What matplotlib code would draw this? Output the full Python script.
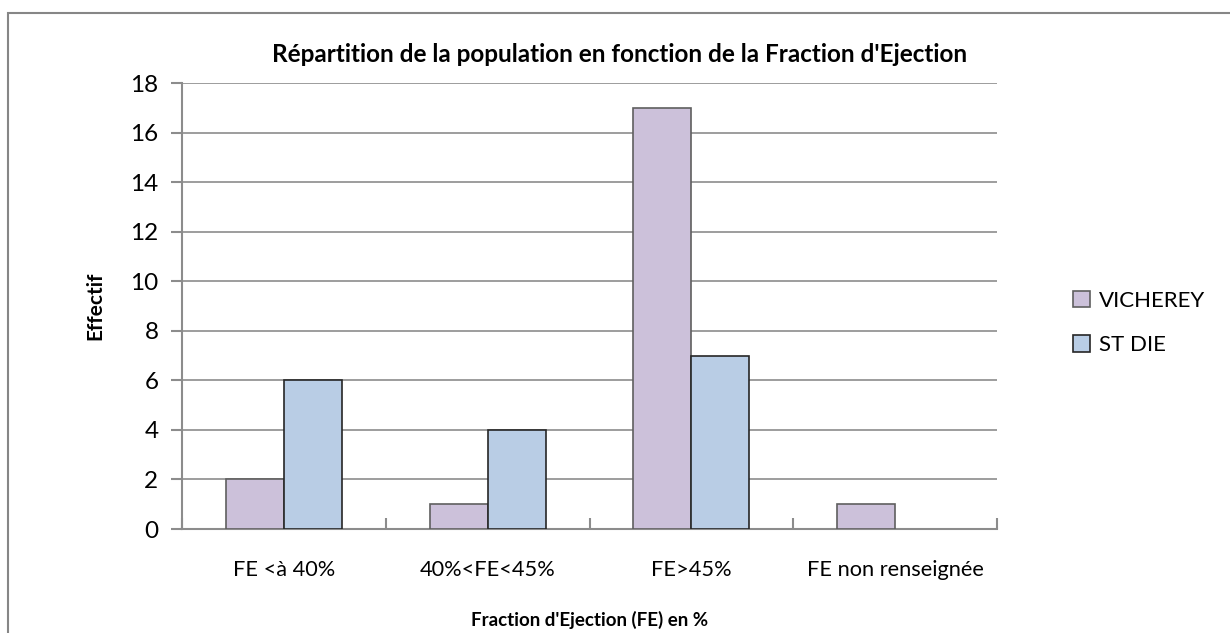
import numpy as np
import matplotlib.pyplot as plt
from matplotlib.patches import Rectangle

plt.rcParams['font.family'] = ['Lato', 'DejaVu Sans']

categories = ["FE <à 40%", "40%<FE<45%", "FE>45%", "FE non renseignée"]
vicherey = [2, 1, 17, 1]
st_die = [6, 4, 7, 0]
series_names = ["VICHEREY", "ST DIE"]

fig = plt.figure(figsize=(12.3, 6.33), dpi=100)
# outer chart frame, cut by the image edges
fig.patches.append(Rectangle((8 / 1230, -0.1), 1.2, 1 - 13 / 633 + 0.1,
                             transform=fig.transFigure, fill=False,
                             edgecolor="#868686", linewidth=1.5))

ax = fig.add_axes([182 / 1230, 1 - 529 / 633, (997 - 182) / 1230, (529 - 83) / 633])
x = np.arange(len(categories))
w = 0.285
b1 = ax.bar(x - w / 2, vicherey, w, color="#CCC1DA", edgecolor="#5f5f5f", linewidth=1.2,
            label=series_names[0], zorder=3)
b2 = ax.bar(x + w / 2, st_die, w, color="#B9CDE5", edgecolor="#262626", linewidth=1.2,
            label=series_names[1], zorder=3)
for p in list(b1) + list(b2):
    if p.get_height() == 0:
        p.set_visible(False)

ax.set_xlim(-0.5, len(categories) - 0.5)
ax.set_ylim(0, 18)
ax.set_yticks(range(0, 19, 2))
ax.yaxis.grid(True, color="#8c8c8c", linewidth=1.2, zorder=0)
for s in ["top", "right"]:
    ax.spines[s].set_visible(False)
for s in ["left", "bottom"]:
    ax.spines[s].set_color("#8c8c8c")
    ax.spines[s].set_linewidth(1.5)

ax.set_xticks(np.arange(-0.5, len(categories)), minor=False)
ax.set_xticklabels([])
ax.set_xticks(x, minor=True)
ax.set_xticklabels(categories, minor=True, fontsize=15.7)
ax.tick_params(axis="x", which="major", direction="in", length=8, color="#8c8c8c", width=1.5)
ax.tick_params(axis="x", which="minor", length=0, pad=22)
ax.tick_params(axis="y", direction="out", length=8, color="#8c8c8c", width=1.5,
               labelsize=17.5, pad=9)

ax.set_ylabel("Effectif", fontsize=15, fontweight="bold", labelpad=18)
fig.text(590 / 1230, 1 - 620 / 633, "Fraction d'Ejection (FE) en %", ha="center",
         va="center", fontsize=13.5, fontweight="bold")
fig.text(620 / 1230, 1 - 55 / 633, "Répartition de la population en fonction de la Fraction d'Ejection",
         ha="center", va="center", fontsize=17.5, fontweight="bold")

ax.legend(loc="center left", bbox_to_anchor=(1073 / 1230, 1 - 323 / 633),
          bbox_transform=fig.transFigure, frameon=False, fontsize=16,
          handlelength=0.75, handleheight=0.75, handletextpad=0.4, labelspacing=1.1,
          borderpad=0, borderaxespad=0)

plt.savefig("out.png", dpi=100)
plt.close()
